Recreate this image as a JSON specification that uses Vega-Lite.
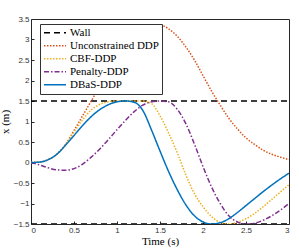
{
  "$schema": "https://vega.github.io/schema/vega-lite/v6.json",
  "width": 258,
  "height": 205,
  "autosize": "none",
  "padding": {"left": 31, "top": 19, "right": 10, "bottom": 27},
  "config": {
    "view": {"stroke": "#262626", "strokeWidth": 1}
  },
  "data": {"values": [
      {"t": 0, "x": 1.5, "s": "Wall", "g": "Wall+"},
      {"t": 3, "x": 1.5, "s": "Wall", "g": "Wall+"},
      {"t": 0, "x": -1.5, "s": "Wall", "g": "Wall-"},
      {"t": 3, "x": -1.5, "s": "Wall", "g": "Wall-"},
      {"t": 0, "x": 0, "s": "Unconstrained DDP", "g": "U"},
      {"t": 0.1, "x": 0.01, "s": "Unconstrained DDP", "g": "U"},
      {"t": 0.2, "x": 0.07, "s": "Unconstrained DDP", "g": "U"},
      {"t": 0.3, "x": 0.2, "s": "Unconstrained DDP", "g": "U"},
      {"t": 0.4, "x": 0.44, "s": "Unconstrained DDP", "g": "U"},
      {"t": 0.5, "x": 0.78, "s": "Unconstrained DDP", "g": "U"},
      {"t": 0.6, "x": 1.14, "s": "Unconstrained DDP", "g": "U"},
      {"t": 0.7, "x": 1.5, "s": "Unconstrained DDP", "g": "U"},
      {"t": 0.8, "x": 1.86, "s": "Unconstrained DDP", "g": "U"},
      {"t": 0.9, "x": 2.2, "s": "Unconstrained DDP", "g": "U"},
      {"t": 1.0, "x": 2.52, "s": "Unconstrained DDP", "g": "U"},
      {"t": 1.1, "x": 2.8, "s": "Unconstrained DDP", "g": "U"},
      {"t": 1.2, "x": 3.04, "s": "Unconstrained DDP", "g": "U"},
      {"t": 1.3, "x": 3.22, "s": "Unconstrained DDP", "g": "U"},
      {"t": 1.4, "x": 3.32, "s": "Unconstrained DDP", "g": "U"},
      {"t": 1.5, "x": 3.35, "s": "Unconstrained DDP", "g": "U"},
      {"t": 1.6, "x": 3.26, "s": "Unconstrained DDP", "g": "U"},
      {"t": 1.7, "x": 3.08, "s": "Unconstrained DDP", "g": "U"},
      {"t": 1.8, "x": 2.82, "s": "Unconstrained DDP", "g": "U"},
      {"t": 1.9, "x": 2.5, "s": "Unconstrained DDP", "g": "U"},
      {"t": 2.0, "x": 2.12, "s": "Unconstrained DDP", "g": "U"},
      {"t": 2.1, "x": 1.74, "s": "Unconstrained DDP", "g": "U"},
      {"t": 2.2, "x": 1.4, "s": "Unconstrained DDP", "g": "U"},
      {"t": 2.3, "x": 1.08, "s": "Unconstrained DDP", "g": "U"},
      {"t": 2.4, "x": 0.82, "s": "Unconstrained DDP", "g": "U"},
      {"t": 2.5, "x": 0.6, "s": "Unconstrained DDP", "g": "U"},
      {"t": 2.6, "x": 0.44, "s": "Unconstrained DDP", "g": "U"},
      {"t": 2.7, "x": 0.3, "s": "Unconstrained DDP", "g": "U"},
      {"t": 2.8, "x": 0.2, "s": "Unconstrained DDP", "g": "U"},
      {"t": 2.9, "x": 0.13, "s": "Unconstrained DDP", "g": "U"},
      {"t": 3.0, "x": 0.07, "s": "Unconstrained DDP", "g": "U"},
      {"t": 0, "x": 0, "s": "CBF-DDP", "g": "C"},
      {"t": 0.1, "x": 0.01, "s": "CBF-DDP", "g": "C"},
      {"t": 0.2, "x": 0.07, "s": "CBF-DDP", "g": "C"},
      {"t": 0.3, "x": 0.2, "s": "CBF-DDP", "g": "C"},
      {"t": 0.4, "x": 0.43, "s": "CBF-DDP", "g": "C"},
      {"t": 0.5, "x": 0.74, "s": "CBF-DDP", "g": "C"},
      {"t": 0.6, "x": 1.04, "s": "CBF-DDP", "g": "C"},
      {"t": 0.7, "x": 1.28, "s": "CBF-DDP", "g": "C"},
      {"t": 0.8, "x": 1.42, "s": "CBF-DDP", "g": "C"},
      {"t": 0.9, "x": 1.48, "s": "CBF-DDP", "g": "C"},
      {"t": 1.0, "x": 1.5, "s": "CBF-DDP", "g": "C"},
      {"t": 1.1, "x": 1.5, "s": "CBF-DDP", "g": "C"},
      {"t": 1.2, "x": 1.5, "s": "CBF-DDP", "g": "C"},
      {"t": 1.3, "x": 1.5, "s": "CBF-DDP", "g": "C"},
      {"t": 1.4, "x": 1.44, "s": "CBF-DDP", "g": "C"},
      {"t": 1.5, "x": 1.14, "s": "CBF-DDP", "g": "C"},
      {"t": 1.6, "x": 0.72, "s": "CBF-DDP", "g": "C"},
      {"t": 1.7, "x": 0.24, "s": "CBF-DDP", "g": "C"},
      {"t": 1.8, "x": -0.3, "s": "CBF-DDP", "g": "C"},
      {"t": 1.9, "x": -0.76, "s": "CBF-DDP", "g": "C"},
      {"t": 2.0, "x": -1.08, "s": "CBF-DDP", "g": "C"},
      {"t": 2.1, "x": -1.32, "s": "CBF-DDP", "g": "C"},
      {"t": 2.2, "x": -1.46, "s": "CBF-DDP", "g": "C"},
      {"t": 2.3, "x": -1.5, "s": "CBF-DDP", "g": "C"},
      {"t": 2.4, "x": -1.46, "s": "CBF-DDP", "g": "C"},
      {"t": 2.5, "x": -1.37, "s": "CBF-DDP", "g": "C"},
      {"t": 2.6, "x": -1.24, "s": "CBF-DDP", "g": "C"},
      {"t": 2.7, "x": -1.08, "s": "CBF-DDP", "g": "C"},
      {"t": 2.8, "x": -0.9, "s": "CBF-DDP", "g": "C"},
      {"t": 2.9, "x": -0.72, "s": "CBF-DDP", "g": "C"},
      {"t": 3.0, "x": -0.54, "s": "CBF-DDP", "g": "C"},
      {"t": 0, "x": 0, "s": "Penalty-DDP", "g": "P"},
      {"t": 0.1, "x": -0.06, "s": "Penalty-DDP", "g": "P"},
      {"t": 0.2, "x": -0.13, "s": "Penalty-DDP", "g": "P"},
      {"t": 0.3, "x": -0.18, "s": "Penalty-DDP", "g": "P"},
      {"t": 0.4, "x": -0.19, "s": "Penalty-DDP", "g": "P"},
      {"t": 0.5, "x": -0.15, "s": "Penalty-DDP", "g": "P"},
      {"t": 0.6, "x": -0.04, "s": "Penalty-DDP", "g": "P"},
      {"t": 0.7, "x": 0.13, "s": "Penalty-DDP", "g": "P"},
      {"t": 0.8, "x": 0.33, "s": "Penalty-DDP", "g": "P"},
      {"t": 0.9, "x": 0.56, "s": "Penalty-DDP", "g": "P"},
      {"t": 1.0, "x": 0.8, "s": "Penalty-DDP", "g": "P"},
      {"t": 1.1, "x": 1.03, "s": "Penalty-DDP", "g": "P"},
      {"t": 1.2, "x": 1.24, "s": "Penalty-DDP", "g": "P"},
      {"t": 1.3, "x": 1.4, "s": "Penalty-DDP", "g": "P"},
      {"t": 1.4, "x": 1.48, "s": "Penalty-DDP", "g": "P"},
      {"t": 1.5, "x": 1.5, "s": "Penalty-DDP", "g": "P"},
      {"t": 1.6, "x": 1.48, "s": "Penalty-DDP", "g": "P"},
      {"t": 1.7, "x": 1.3, "s": "Penalty-DDP", "g": "P"},
      {"t": 1.8, "x": 0.95, "s": "Penalty-DDP", "g": "P"},
      {"t": 1.9, "x": 0.45, "s": "Penalty-DDP", "g": "P"},
      {"t": 2.0, "x": -0.1, "s": "Penalty-DDP", "g": "P"},
      {"t": 2.1, "x": -0.6, "s": "Penalty-DDP", "g": "P"},
      {"t": 2.2, "x": -1.0, "s": "Penalty-DDP", "g": "P"},
      {"t": 2.3, "x": -1.3, "s": "Penalty-DDP", "g": "P"},
      {"t": 2.4, "x": -1.45, "s": "Penalty-DDP", "g": "P"},
      {"t": 2.5, "x": -1.5, "s": "Penalty-DDP", "g": "P"},
      {"t": 2.6, "x": -1.48, "s": "Penalty-DDP", "g": "P"},
      {"t": 2.7, "x": -1.41, "s": "Penalty-DDP", "g": "P"},
      {"t": 2.8, "x": -1.3, "s": "Penalty-DDP", "g": "P"},
      {"t": 2.9, "x": -1.16, "s": "Penalty-DDP", "g": "P"},
      {"t": 3.0, "x": -1.0, "s": "Penalty-DDP", "g": "P"},
      {"t": 0, "x": 0, "s": "DBaS-DDP", "g": "D"},
      {"t": 0.1, "x": 0.01, "s": "DBaS-DDP", "g": "D"},
      {"t": 0.2, "x": 0.07, "s": "DBaS-DDP", "g": "D"},
      {"t": 0.3, "x": 0.2, "s": "DBaS-DDP", "g": "D"},
      {"t": 0.4, "x": 0.42, "s": "DBaS-DDP", "g": "D"},
      {"t": 0.5, "x": 0.66, "s": "DBaS-DDP", "g": "D"},
      {"t": 0.6, "x": 0.9, "s": "DBaS-DDP", "g": "D"},
      {"t": 0.7, "x": 1.12, "s": "DBaS-DDP", "g": "D"},
      {"t": 0.8, "x": 1.29, "s": "DBaS-DDP", "g": "D"},
      {"t": 0.9, "x": 1.41, "s": "DBaS-DDP", "g": "D"},
      {"t": 1.0, "x": 1.48, "s": "DBaS-DDP", "g": "D"},
      {"t": 1.1, "x": 1.5, "s": "DBaS-DDP", "g": "D"},
      {"t": 1.2, "x": 1.47, "s": "DBaS-DDP", "g": "D"},
      {"t": 1.3, "x": 1.27, "s": "DBaS-DDP", "g": "D"},
      {"t": 1.4, "x": 0.8, "s": "DBaS-DDP", "g": "D"},
      {"t": 1.5, "x": 0.28, "s": "DBaS-DDP", "g": "D"},
      {"t": 1.6, "x": -0.22, "s": "DBaS-DDP", "g": "D"},
      {"t": 1.7, "x": -0.66, "s": "DBaS-DDP", "g": "D"},
      {"t": 1.8, "x": -1.03, "s": "DBaS-DDP", "g": "D"},
      {"t": 1.9, "x": -1.3, "s": "DBaS-DDP", "g": "D"},
      {"t": 2.0, "x": -1.45, "s": "DBaS-DDP", "g": "D"},
      {"t": 2.1, "x": -1.5, "s": "DBaS-DDP", "g": "D"},
      {"t": 2.2, "x": -1.47, "s": "DBaS-DDP", "g": "D"},
      {"t": 2.3, "x": -1.37, "s": "DBaS-DDP", "g": "D"},
      {"t": 2.4, "x": -1.22, "s": "DBaS-DDP", "g": "D"},
      {"t": 2.5, "x": -1.05, "s": "DBaS-DDP", "g": "D"},
      {"t": 2.6, "x": -0.88, "s": "DBaS-DDP", "g": "D"},
      {"t": 2.7, "x": -0.71, "s": "DBaS-DDP", "g": "D"},
      {"t": 2.8, "x": -0.55, "s": "DBaS-DDP", "g": "D"},
      {"t": 2.9, "x": -0.4, "s": "DBaS-DDP", "g": "D"},
      {"t": 3.0, "x": -0.26, "s": "DBaS-DDP", "g": "D"}
  ]},
  "mark": {"type": "line", "interpolate": "monotone", "clip": true, "strokeWidth": 1.5},
  "encoding": {
    "x": {
      "field": "t", "type": "quantitative",
      "scale": {"domain": [0, 3], "nice": false},
      "axis": {"grid": false, "domain": false, "tickSize": -3, "tickColor": "#262626", "values": [0, 0.5, 1, 1.5, 2, 2.5, 3], "title": "Time (s)", "titleFont": "Liberation Serif", "titleFontWeight": "normal", "titleFontSize": 11, "titleColor": "#000000", "labelFont": "Liberation Sans", "labelFontSize": 8, "labelColor": "#333333", "labelPadding": 5, "titlePadding": 1, "format": "~g"}
    },
    "y": {
      "field": "x", "type": "quantitative",
      "scale": {"domain": [-1.5, 3.5], "nice": false, "zero": false},
      "axis": {"grid": false, "domain": false, "tickSize": -3, "tickColor": "#262626", "values": [-1.5, -1, -0.5, 0, 0.5, 1, 1.5, 2, 2.5, 3, 3.5], "title": "x (m)", "titleFont": "Liberation Serif", "titleFontWeight": "normal", "titleFontSize": 11, "titleColor": "#000000", "labelFont": "Liberation Sans", "labelFontSize": 8, "labelColor": "#333333", "labelPadding": 5, "titlePadding": 3, "format": "~g"}
    },
    "detail": {"field": "g"},
    "color": {
      "field": "s", "type": "nominal",
      "scale": {
        "domain": ["Wall", "Unconstrained DDP", "CBF-DDP", "Penalty-DDP", "DBaS-DDP"],
        "range": ["#000000", "#D95319", "#EDB120", "#7E2F8E", "#0072BD"]
      },
      "legend": {
        "title": null,
        "orient": "none",
        "legendX": 9,
        "legendY": 5,
        "symbolType": "stroke",
        "symbolSize": 484,
        "symbolStrokeWidth": 1.5,
        "clipHeight": 11.5,
        "rowPadding": 0,
        "labelFont": "Liberation Serif",
        "labelFontSize": 11,
        "labelColor": "#000000",
        "labelOffset": 3,
        "padding": 3,
        "fillColor": "#ffffff",
        "strokeColor": "#333333",
        "encode": {
          "symbols": {
            "update": {
              "strokeDash": {"signal": "datum.value === 'Wall' ? [6, 4] : datum.value === 'Penalty-DDP' ? [5, 2, 1.5, 2] : datum.value === 'DBaS-DDP' ? [1, 0] : [1.5, 1.5]"}
            }
          }
        }
      }
    },
    "strokeDash": {
      "field": "s", "type": "nominal",
      "scale": {
        "domain": ["Wall", "Unconstrained DDP", "CBF-DDP", "Penalty-DDP", "DBaS-DDP"],
        "range": [[6, 4], [1.5, 1.5], [1.5, 1.5], [5, 2, 1.5, 2], [1, 0]]
      },
      "legend": null
    }
  }
}
